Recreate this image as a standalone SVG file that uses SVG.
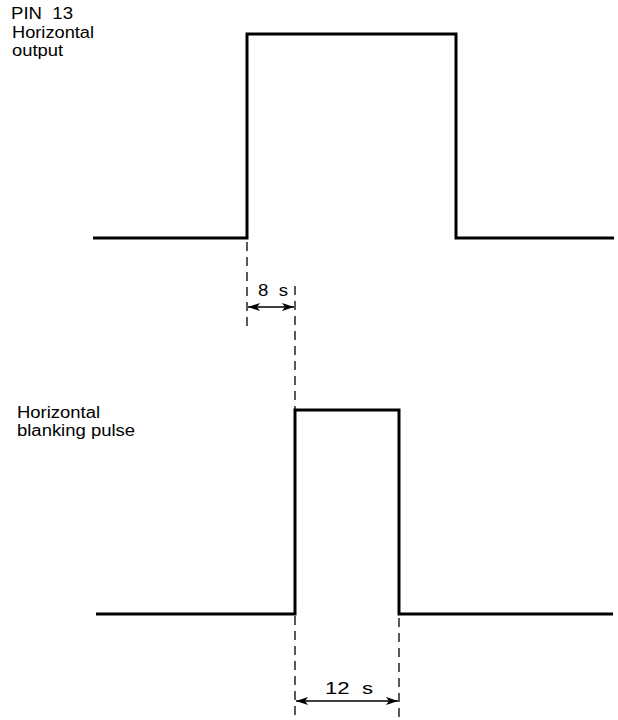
<svg xmlns="http://www.w3.org/2000/svg" width="618" height="720" viewBox="0 0 618 720" xml:space="preserve">
<defs>
<style>
.wave{fill:none;stroke:#000;stroke-width:3;stroke-linejoin:miter}
.dash{fill:none;stroke:#000;stroke-width:1.3;stroke-dasharray:9,6}
.dim{fill:none;stroke:#000;stroke-width:1.6}
.lbl{font-family:"Liberation Sans",Arial,sans-serif;font-size:16px;fill:#000;white-space:pre}
</style>
<marker id="ah" viewBox="0 0 12 8" refX="12" refY="4" markerWidth="13" markerHeight="8" markerUnits="userSpaceOnUse" orient="auto-start-reverse">
<path d="M0,0 L12,4 L0,8 L3,4 Z" fill="#000"/>
</marker>
</defs>
<rect width="618" height="720" fill="#fff"/>
<g id="label-top">
<text class="lbl" x="11" y="19" textLength="62" lengthAdjust="spacingAndGlyphs">PIN  13</text>
<text class="lbl" x="12" y="38" textLength="82" lengthAdjust="spacingAndGlyphs">Horizontal</text>
<text class="lbl" x="12" y="56" textLength="51" lengthAdjust="spacingAndGlyphs">output</text>
</g>
<g id="wave-top">
<path class="wave" d="M93,238 H247 V34 H456 V238 H614"/>
</g>
<g id="label-bottom">
<text class="lbl" x="17" y="418" textLength="83" lengthAdjust="spacingAndGlyphs">Horizontal</text>
<text class="lbl" x="17" y="436" textLength="118" lengthAdjust="spacingAndGlyphs">blanking pulse</text>
</g>
<g id="wave-bottom">
<path class="wave" d="M96,614 H295 V410 H399 V614 H613"/>
</g>
<g id="connectors">
<line class="dash" x1="247" y1="242" x2="247" y2="332"/>
<line class="dash" x1="295" y1="286" x2="295" y2="720"/>
<line class="dash" x1="399" y1="618" x2="399" y2="720"/>
<line class="dim" x1="248" y1="307" x2="294" y2="307" marker-start="url(#ah)" marker-end="url(#ah)"/>
<line class="dim" x1="296" y1="701" x2="398" y2="701" marker-start="url(#ah)" marker-end="url(#ah)"/>
</g>
<g id="dim-labels">
<text class="lbl" x="258" y="296" textLength="30" lengthAdjust="spacingAndGlyphs">8  s</text>
<text class="lbl" x="325" y="694" textLength="48" lengthAdjust="spacingAndGlyphs">12  s</text>
</g>
</svg>
